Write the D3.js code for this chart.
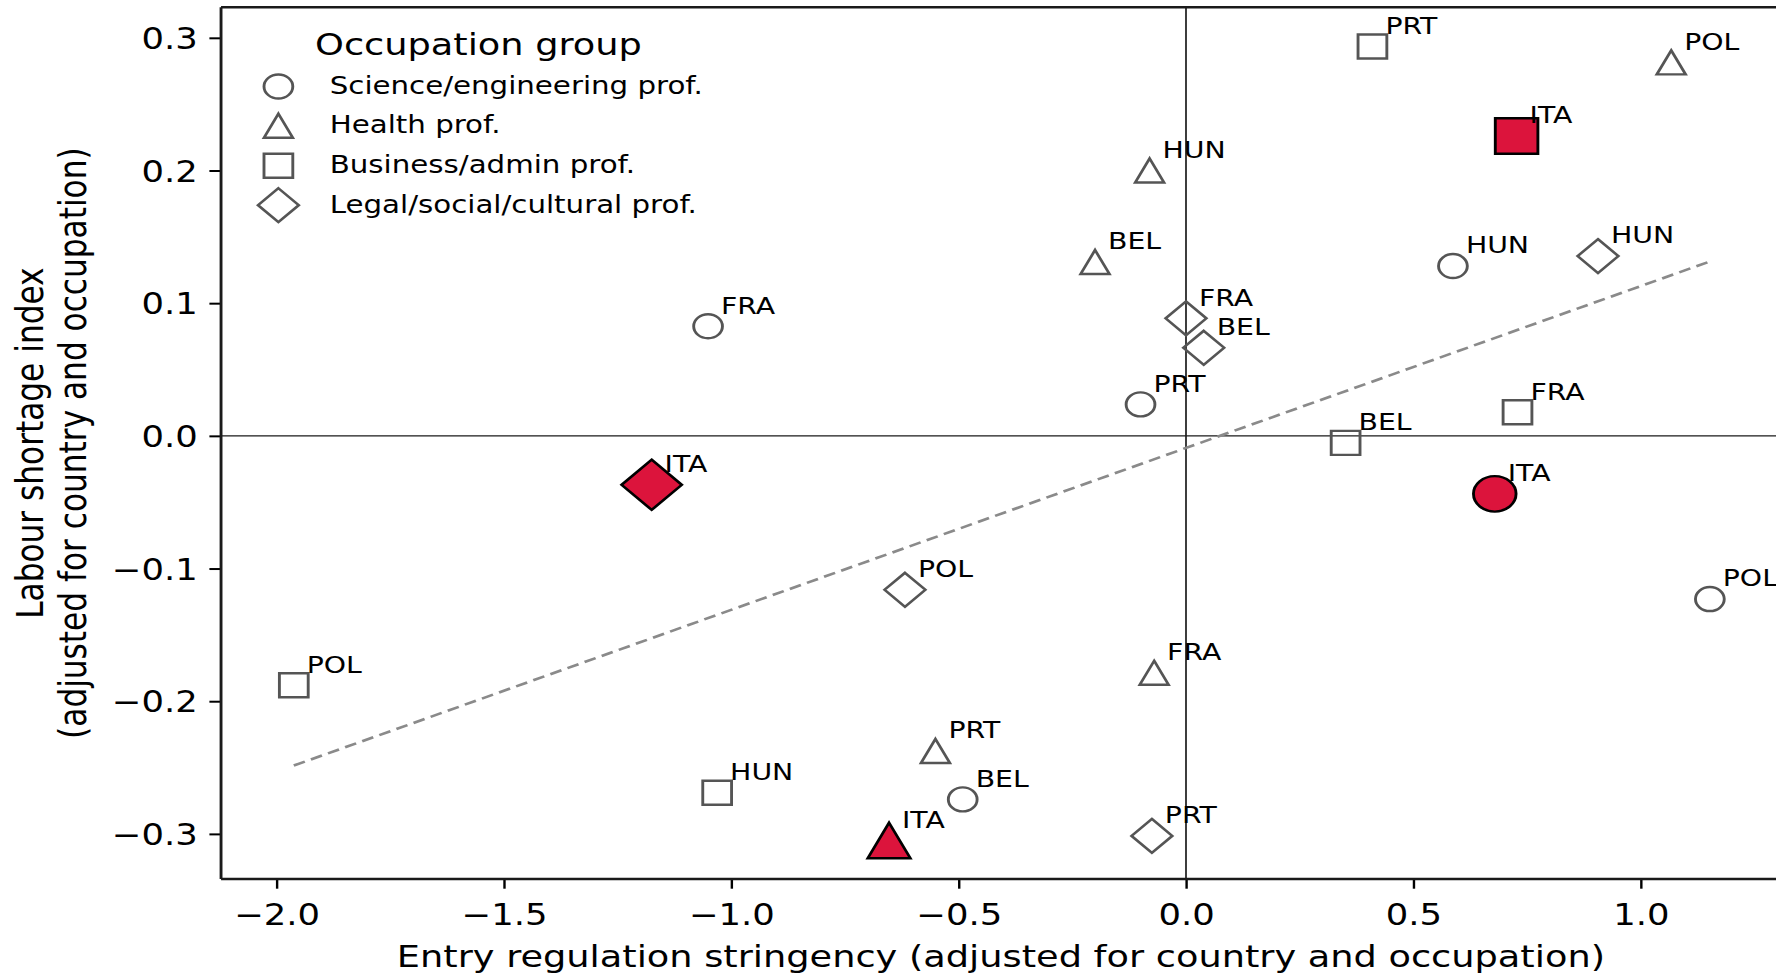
<!DOCTYPE html>
<html><head><meta charset="utf-8">
<script src="https://cdn.jsdelivr.net/npm/d3@7"></script>
<style>
body{margin:0;background:#fff}
svg{display:block}
text{font-family:"DejaVu Sans",sans-serif;fill:#000}
</style>
</head><body>
<svg id="chart" width="1776" height="974"></svg>
<script>
// ---------------- data ----------------
const groups = ["Science/engineering prof.", "Health prof.", "Business/admin prof.", "Legal/social/cultural prof."];
const groupShapes = ["circle", "triangle", "square", "diamond"];

const sciCountries = ["FRA", "PRT", "HUN", "ITA", "BEL", "POL"];
const sciX = [-1.051, -0.100, 0.587, 0.679, -0.491, 1.152];
const sciY = [0.0826, 0.0237, 0.128, -0.0437, -0.274, -0.123];

const healthCountries = ["HUN", "BEL", "POL", "FRA", "PRT", "ITA"];
const healthX = [-0.080, -0.200, 1.067, -0.070, -0.551, -0.653];
const healthY = [0.200, 0.131, 0.2815, -0.1786, -0.2375, -0.305];

const busCountries = ["PRT", "ITA", "FRA", "BEL", "POL", "HUN"];
const busX = [0.410, 0.727, 0.729, 0.351, -1.962, -1.031];
const busY = [0.2935, 0.226, 0.0178, -0.0053, -0.188, -0.269];

const legalCountries = ["HUN", "FRA", "BEL", "ITA", "POL", "PRT"];
const legalX = [0.906, 0.000, 0.039, -1.175, -0.618, -0.075];
const legalY = [0.1355, 0.0886, 0.0664, -0.0369, -0.116, -0.3015];

const highlightCountry = "ITA";

const trendX = [-1.962, 1.150];
const trendY = [-0.2485, 0.1312];

const xTicks = [-2.0, -1.5, -1.0, -0.5, 0.0, 0.5, 1.0];
const yTicks = [-0.3, -0.2, -0.1, 0.0, 0.1, 0.2, 0.3];
const xDomain = [-2.122, 1.308];
const yDomain = [-0.334, 0.323];

const xLabel = "Entry regulation stringency (adjusted for country and occupation)";
const yLabelLines = ["Labour shortage index", "(adjusted for country and occupation)"];
const legendTitle = "Occupation group";

// ---------------- layout ----------------
const STRETCH = 1.2;            // horizontal stretch of the whole figure
const plot = {left: 184.2, right: 1484, top: 7.3, bottom: 879};

const svg = d3.select("#chart");
const root = svg.append("g").attr("transform", `scale(${STRETCH},1)`);

const x = d3.scaleLinear().domain(xDomain).range([plot.left, plot.right]);
const y = d3.scaleLinear().domain(yDomain).range([plot.bottom, plot.top]);

const fmt = v => d3.format(".1f")(v).replace("-", "\u2212");

// zero reference lines
root.append("line").attr("x1", x(0)).attr("x2", x(0)).attr("y1", plot.top).attr("y2", plot.bottom)
  .attr("stroke", "#1a1a1a").attr("stroke-width", 1.4);
root.append("line").attr("x1", plot.left).attr("x2", plot.right).attr("y1", y(0)).attr("y2", y(0))
  .attr("stroke", "#1a1a1a").attr("stroke-width", 1.4);

// trend line
root.append("line")
  .attr("x1", x(trendX[0])).attr("y1", y(trendY[0]))
  .attr("x2", x(trendX[1])).attr("y2", y(trendY[1]))
  .attr("stroke", "#8a8a8a").attr("stroke-width", 2.6)
  .attr("stroke-dasharray", "10,5.5");

// axes
const xAxis = d3.axisBottom(x).tickValues(xTicks).tickFormat(fmt).tickSize(9.7).tickPadding(9);
const yAxis = d3.axisLeft(y).tickValues(yTicks).tickFormat(fmt).tickSize(9.7).tickPadding(9.7);

const gx = root.append("g").attr("transform", `translate(0,${plot.bottom})`).call(xAxis);
const gy = root.append("g").attr("transform", `translate(${plot.left},0)`).call(yAxis);
[gx, gy].forEach(g => {
  g.select(".domain").remove();
  g.selectAll(".tick line").attr("stroke", "#000").attr("stroke-width", 2);
  g.selectAll(".tick text").attr("font-size", 29.5).attr("fill", "#000")
    .style("font-family", "'DejaVu Sans', sans-serif");
});
gx.selectAll(".tick text").attr("dy", null).attr("y", 925 - plot.bottom);
gy.selectAll(".tick text").attr("dy", "0.36em");

// spines
root.append("line").attr("x1", plot.left).attr("x2", plot.left).attr("y1", plot.top).attr("y2", plot.bottom)
  .attr("stroke", "#1a1a1a").attr("stroke-width", 2.4);
root.append("line").attr("x1", plot.left).attr("x2", plot.right).attr("y1", plot.top).attr("y2", plot.top)
  .attr("stroke", "#1a1a1a").attr("stroke-width", 2.4);
root.append("line").attr("x1", plot.left).attr("x2", plot.right).attr("y1", plot.bottom).attr("y2", plot.bottom)
  .attr("stroke", "#1a1a1a").attr("stroke-width", 2.4);
root.append("line").attr("x1", plot.right).attr("x2", plot.right).attr("y1", plot.top).attr("y2", plot.bottom)
  .attr("stroke", "#1a1a1a").attr("stroke-width", 2.4);

// axis labels
root.append("text").attr("x", (plot.left + plot.right) / 2).attr("y", 967)
  .attr("text-anchor", "middle").attr("font-size", 30.6).text(xLabel);
const yl = root.append("text").attr("transform", `translate(0,${(plot.top + plot.bottom) / 2}) rotate(-90)`)
  .attr("text-anchor", "middle").attr("font-size", 31.2);
yl.append("tspan").attr("x", 0).attr("y", 36).text(yLabelLines[0]);
yl.append("tspan").attr("x", 0).attr("y", 71.5).text(yLabelLines[1]);

// marker shapes
function shapePath(shape, ms) {
  const h = ms / 2;
  if (shape === "circle") { const p = d3.path(); p.moveTo(h, 0); p.arc(0, 0, h, 0, 2 * Math.PI); p.closePath(); return p.toString(); }
  if (shape === "square") return `M${-h},${-h}H${h}V${h}H${-h}Z`;
  if (shape === "triangle") return `M0,${-h}L${h},${h}L${-h},${h}Z`;
  if (shape === "diamond") { const d = ms * Math.SQRT1_2; return `M0,${-d}L${d},0L0,${d}L${-d},0Z`; }
}

const seriesData = [
  {shape: groupShapes[0], c: sciCountries, xs: sciX, ys: sciY},
  {shape: groupShapes[1], c: healthCountries, xs: healthX, ys: healthY},
  {shape: groupShapes[2], c: busCountries, xs: busX, ys: busY},
  {shape: groupShapes[3], c: legalCountries, xs: legalX, ys: legalY}
];

const points = [];
seriesData.forEach(s => s.c.forEach((cc, i) => points.push({shape: s.shape, country: cc, vx: s.xs[i], vy: s.ys[i]})));

const HOLLOW = 24, RED = 35.5;
const ptsG = root.append("g");
ptsG.selectAll("path").data(points.filter(p => p.country !== highlightCountry)).join("path")
  .attr("transform", d => `translate(${x(d.vx)},${y(d.vy)})`)
  .attr("d", d => shapePath(d.shape, HOLLOW))
  .attr("fill", "none").attr("stroke", "#555").attr("stroke-width", 2.4);
ptsG.selectAll("path.hl").data(points.filter(p => p.country === highlightCountry)).join("path")
  .attr("class", "hl")
  .attr("transform", d => `translate(${x(d.vx)},${y(d.vy)})`)
  .attr("d", d => shapePath(d.shape, RED))
  .attr("fill", "#DC143C").attr("stroke", "#000").attr("stroke-width", 2.4);

// point labels
root.append("g").selectAll("text").data(points).join("text")
  .attr("x", d => x(d.vx) + 10.8).attr("y", d => y(d.vy) - 12.7)
  .attr("font-size", 23.6).text(d => d.country);

// legend
const lg = root.append("g");
lg.append("text").attr("x", 262.5).attr("y", 55).attr("font-size", 30.6).text(legendTitle);
const legY = [94, 133.3, 173.3, 212.7];
groups.forEach((g, i) => {
  lg.append("path").attr("transform", `translate(232,${legY[i] - 7.5})`)
    .attr("d", shapePath(groupShapes[i], HOLLOW))
    .attr("fill", "none").attr("stroke", "#555").attr("stroke-width", 2.4);
  lg.append("text").attr("x", 274.8).attr("y", legY[i]).attr("font-size", 24.4).text(g);
});
</script>
</body></html>
